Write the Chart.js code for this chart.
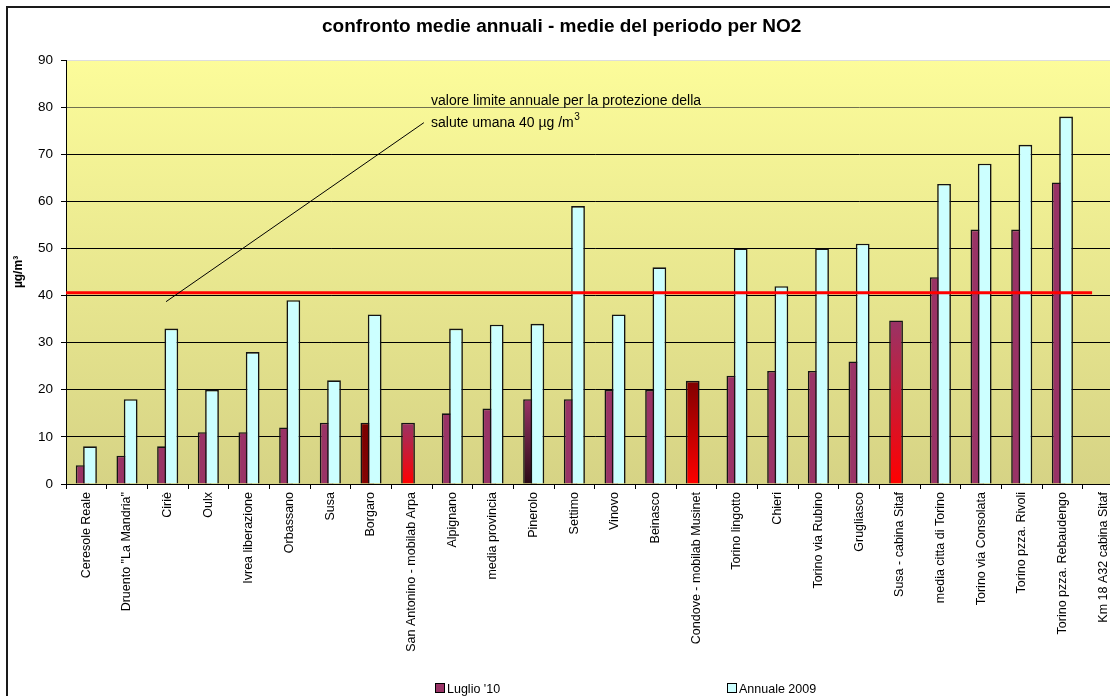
<!DOCTYPE html>
<html>
<head>
<meta charset="utf-8">
<script src="https://cdn.jsdelivr.net/npm/chart.js@4.4.0/dist/chart.umd.min.js"></script>
<style>
  body { margin: 0; background: #fff; overflow: hidden; font-family: "Liberation Sans", Arial, sans-serif; }
  #frame { position: absolute; left: 6px; top: 6px; width: 1200px; height: 800px; border: 2px solid #1a1a1a; }
  #wrap { position: absolute; left: 0; top: 0; width: 1150px; height: 696px; }
  .leg { position: absolute; top: 682px; font-size: 12.5px; line-height: 14px; color: #000; white-space: nowrap; }
  .leg i { display: inline-block; width: 8px; height: 8px; border: 1px solid #000; margin-right: 2px; vertical-align: 0px; }
</style>
</head>
<body>
<div id="frame"></div>
<div id="wrap"><canvas id="chart" width="1150" height="696"></canvas></div>
<div id="legend"></div>
<script>
const FONT = '"Liberation Sans", Arial, sans-serif';

const categories = [
  'Ceresole Reale', 'Druento "La Mandria"', 'Ciriè', 'Oulx', 'Ivrea liberazione',
  'Orbassano', 'Susa', 'Borgaro', 'San Antonino - mobilab Arpa', 'Alpignano',
  'media provincia', 'Pinerolo', 'Settimo', 'Vinovo', 'Beinasco',
  'Condove - mobilab Musinet', 'Torino lingotto', 'Chieri', 'Torino via Rubino', 'Grugliasco',
  'Susa - cabina Sitaf', 'media citta di Torino', 'Torino via Consolata', 'Torino pzza. Rivoli',
  'Torino pzza. Rebaudengo', 'Km 18 A32 cabina Sitaf'
];

const luglio10 = [4, 6, 8, 11, 11, 12, 13, 13, 13, 15, 16, 18, 18, 20, 20, 21.9, 23, 24, 24, 26, 34.7, 43.9, 54, 54, 64, null];
const annuale2009 = [8, 18, 33, 20, 28, 39, 22, 36, null, 33, 33.8, 34, 59, 36, 46, null, 50, 42, 50, 51, null, 63.7, 68, 72, 78, null];

const yTicks = [0, 10, 20, 30, 40, 50, 60, 70, 80, 90];
const seriesLabels = ["Luglio '10", 'Annuale 2009'];
const seriesColors = ['#993366', '#CCFFFF'];

// barre "speciali" (colori sfumati dall'alto verso la base)
const luglioFills = {
  7: ['#7a0000', '#860404'],
  8: ['#993366', '#FF0000'],
  11: ['#993366', '#2a0a16'],
  15: ['#800000', '#FF0000'],
  20: ['#993366', '#FF0000']
};

const limitValue = 40.6;
const limitLineEnd = 24.73;
const noteLines = ['valore limite annuale per la protezione della', 'salute umana 40 µg /m'];
const noteAt = [8.475, 81.2, 76.6];
const leaderFrom = [1.96, 38.7];
const leaderTo = [8.3, 76.7];

function luglioColor(c) {
  const spec = luglioFills[c.dataIndex];
  if (!spec || c.type !== 'data' || !c.chart.chartArea) return seriesColors[0];
  const y = c.chart.scales.y;
  const top = y.getPixelForValue(c.raw);
  const base = y.getPixelForValue(0);
  const g = c.chart.ctx.createLinearGradient(0, top, 0, base);
  g.addColorStop(0, spec[0]);
  g.addColorStop(1, spec[1]);
  return g;
}

const plotBackground = {
  id: 'plotBackground',
  beforeDraw(chart) {
    const { ctx, chartArea: a } = chart;
    const g = ctx.createLinearGradient(0, a.top, 0, a.bottom);
    g.addColorStop(0, '#FCFC9A');
    g.addColorStop(1, '#D6D385');
    ctx.save();
    ctx.fillStyle = g;
    ctx.fillRect(a.left, a.top, a.right - a.left, a.bottom - a.top);
    ctx.restore();
  }
};

const limitNote = {
  id: 'limitNote',
  afterDatasetsDraw(chart) {
    const { ctx, chartArea: a, scales: { x, y } } = chart;
    ctx.save();
    // linea del valore limite
    const ly = y.getPixelForValue(limitValue);
    ctx.strokeStyle = '#FF0000';
    ctx.lineWidth = 3;
    ctx.beginPath();
    ctx.moveTo(a.left, ly);
    ctx.lineTo(x.getPixelForValue(limitLineEnd), ly);
    ctx.stroke();
    // linea della nota
    ctx.strokeStyle = '#000';
    ctx.lineWidth = 1;
    ctx.beginPath();
    ctx.moveTo(x.getPixelForValue(leaderFrom[0]), y.getPixelForValue(leaderFrom[1]));
    ctx.lineTo(x.getPixelForValue(leaderTo[0]), y.getPixelForValue(leaderTo[1]));
    ctx.stroke();
    // testo
    ctx.fillStyle = '#000';
    ctx.font = '14px ' + FONT;
    ctx.textBaseline = 'middle';
    const tx = x.getPixelForValue(noteAt[0]);
    ctx.fillText(noteLines[0], tx, y.getPixelForValue(noteAt[1]));
    const y2 = y.getPixelForValue(noteAt[2]);
    ctx.fillText(noteLines[1], tx, y2);
    const w = ctx.measureText(noteLines[1]).width;
    ctx.font = '10px ' + FONT;
    ctx.fillText('3', tx + w + 0.5, y2 - 6);
    ctx.restore();
  }
};

const barOpts = { categoryPercentage: 0.36, barPercentage: 1.88, borderWidth: 1.6, borderColor: '#141414' };

new Chart(document.getElementById('chart'), {
  type: 'bar',
  data: {
    labels: categories,
    datasets: [
      // vuoto: serve solo a mettere la serie di luglio a sinistra
      { label: '', data: [], stack: 'L', backgroundColor: 'rgba(0,0,0,0)', ...barOpts },
      { label: seriesLabels[1], data: annuale2009, stack: 'R', backgroundColor: seriesColors[1], ...barOpts },
      { label: seriesLabels[0], data: luglio10, stack: 'L', backgroundColor: luglioColor, ...barOpts }
    ]
  },
  options: {
    responsive: false,
    animation: false,
    layout: { padding: { top: 8, left: 0, right: 26.6, bottom: 12 } },
    plugins: {
      legend: { display: false },
      tooltip: { enabled: false },
      title: {
        display: true,
        text: 'confronto medie annuali - medie del periodo per NO2',
        color: '#000',
        font: { family: FONT, size: 19, weight: 'bold' },
        padding: { top: 7.6, bottom: 21.6 }
      }
    },
    scales: {
      x: {
        stacked: true,
        offset: true,
        grid: { offset: true, drawOnChartArea: false, color: '#000', tickColor: '#000', tickLength: 5 },
        border: { color: '#000', width: 1 },
        ticks: {
          autoSkip: false, maxRotation: 90, minRotation: 90, padding: 3, color: '#000',
          font: { family: FONT, size: 12.5 }
        },
        afterFit: s => { s.height = 200; }
      },
      y: {
        stacked: false,
        min: yTicks[0],
        max: yTicks[yTicks.length - 1],
        afterBuildTicks: s => { s.ticks = yTicks.map(v => ({ value: v })); },
        grid: {
          color: c => c.tick.value === 90 ? '#dddddd' : (c.tick.value === 80 ? '#707050' : '#000'),
          tickColor: '#000',
          tickLength: 5
        },
        border: { color: '#000', width: 1 },
        ticks: { color: '#000', padding: 8, font: { family: FONT, size: 13.5 } },
        title: {
          display: true,
          text: 'µg/m³',
          color: '#000',
          font: { family: FONT, size: 12, weight: 'bold' },
          padding: { top: 11, bottom: 0 }
        },
        afterFit: s => { s.width = 66; }
      }
    }
  },
  plugins: [plotBackground, limitNote]
});

// legenda sotto il grafico
const legendX = [435, 727];
document.getElementById('legend').innerHTML = seriesLabels.map((l, i) =>
  `<div class="leg" style="left:${legendX[i]}px"><i style="background:${seriesColors[i]}"></i>${l}</div>`
).join('');
</script>
</body>
</html>
